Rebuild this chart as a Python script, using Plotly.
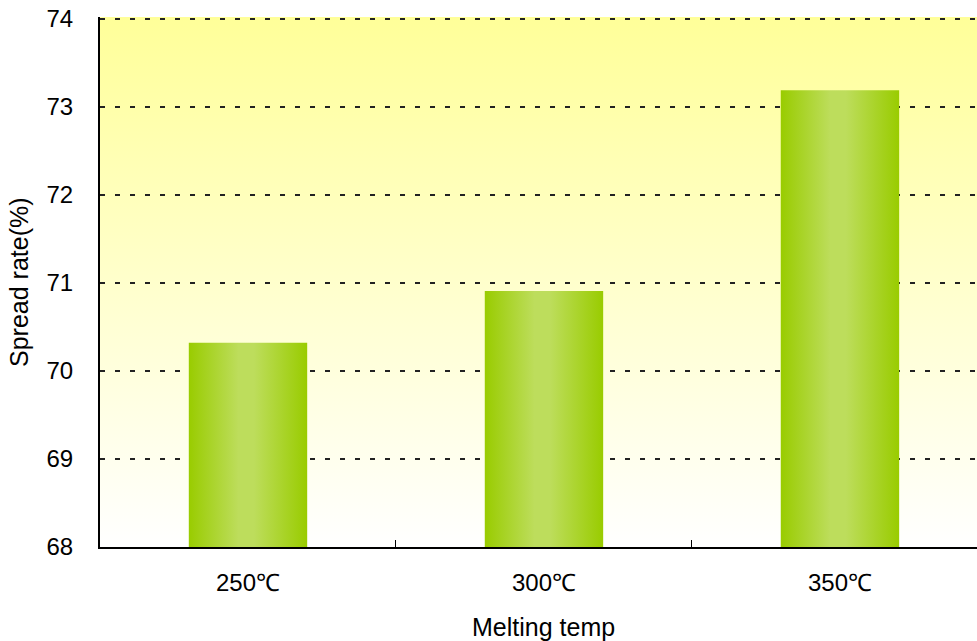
import plotly.graph_objects as go

# Spread rate by melting temperature
categories = ["250℃", "300℃", "350℃"]
spread_rate = [70.32, 70.91, 73.19]

y_min, y_max = 68, 74
y_top = 74.0227          # a hair above 74 so the 74 gridline is kept
bar_width = 0.4
x_lo, x_hi = -0.5, 2.463

FONT = dict(family="Liberation Sans, Arial, sans-serif", size=24, color="black")
TITLE_FONT = dict(FONT, size=25)
BAR_SCALE = [[0.0, "#99CC00"], [0.42, "#BDDD5C"], [0.55, "#BDDD5C"], [1.0, "#99CC00"]]

fig = go.Figure()

# Yellow-to-white backdrop on the lower subplot, so gridlines of the
# upper subplot sit above it and below the bars.
fig.add_trace(go.Scatter(
    x=[-0.5, len(categories) - 0.5, len(categories) - 0.5, -0.5],
    y=[y_min, y_min, y_top, y_top],
    fill="toself", mode="none", hoverinfo="skip", showlegend=False,
    fillgradient=dict(type="vertical",
                      colorscale=[[0, "#FFFFFF"], [1, "#FFFF99"]]),
    xaxis="x", yaxis="y",
))

# Bars with a horizontal shaded fill
for i, (cat, val) in enumerate(zip(categories, spread_rate)):
    x0, x1 = i - bar_width / 2, i + bar_width / 2
    fig.add_trace(go.Scatter(
        x=[x0, x1, x1, x0], y=[y_min, y_min, val, val],
        fill="toself", mode="none", showlegend=False,
        fillgradient=dict(type="horizontal", colorscale=BAR_SCALE),
        hoveron="fills", name=cat, text=f"{cat}: {val}%",
        xaxis="x2", yaxis="y2",
    ))

fig.update_layout(
    width=977, height=641,
    margin=dict(l=100, r=0, t=17, b=94),
    paper_bgcolor="white", plot_bgcolor="rgba(0,0,0,0)",
    font=FONT,
    xaxis=dict(range=[x_lo, x_hi], visible=False, fixedrange=True),
    yaxis=dict(range=[y_min, y_top], visible=False, fixedrange=True),
    xaxis2=dict(
        range=[x_lo, x_hi], anchor="y2",
        tickmode="array", tickvals=list(range(len(categories))),
        ticktext=categories, ticks="", ticklabelstandoff=13,
        showgrid=False, zeroline=False,
        showline=True, linecolor="black", linewidth=2,
        minor=dict(tickmode="array",
                   tickvals=[i + 0.5 for i in range(len(categories) - 1)],
                   ticks="inside", ticklen=7, tickwidth=1, tickcolor="black",
                   showgrid=False),
        tickfont=FONT,
    ),
    yaxis2=dict(
        range=[y_min, y_top], anchor="x2", dtick=1, tick0=y_min,
        ticks="", ticklabelstandoff=20,
        showgrid=True, gridcolor="#222222", gridwidth=2, griddash="5px,10px",
        zeroline=False, showline=True, linecolor="black", linewidth=2,
        tickfont=FONT,
    ),
    annotations=[
        dict(text="Melting temp", x=1, xref="x2", y=0, yref="paper",
             yanchor="middle", yshift=-80, showarrow=False, font=TITLE_FONT),
        dict(text="Spread rate(%)", x=0, xref="paper", y=0.5, yref="paper",
             xanchor="center", yanchor="middle", xshift=-81, textangle=-90,
             showarrow=False, font=TITLE_FONT),
    ],
)

fig.write_html("out.html")
